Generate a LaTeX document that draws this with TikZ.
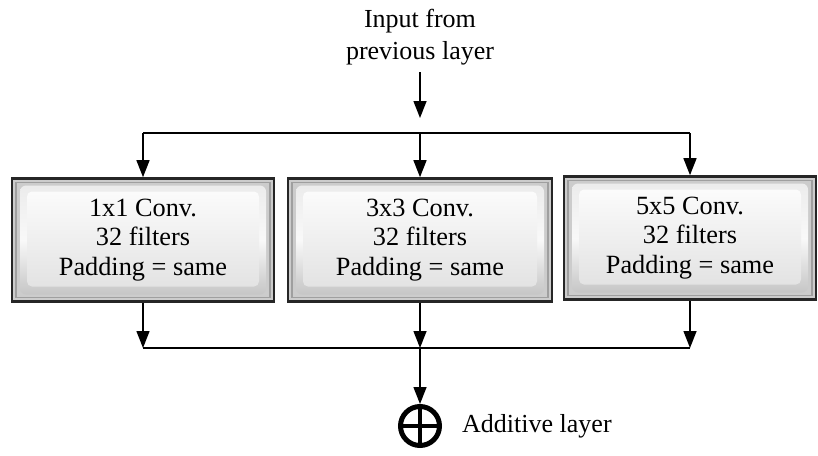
\documentclass[tikz,border=0pt]{standalone}
\usepackage{fontspec}
\setmainfont{Liberation Serif}
\usetikzlibrary{arrows.meta}
\begin{document}
\begin{tikzpicture}[x=1pt,y=-1pt,
  convbox/.style={minimum height=123pt, inner sep=0pt, align=center,
    font=\fontsize{26.3}{29.5}\selectfont,
    path picture={
      \fill[gray!40] (path picture bounding box.south west) rectangle (path picture bounding box.north east);
      \draw[gray!75,line width=1.2pt] ([shift={(4pt,4pt)}]path picture bounding box.south west) rectangle ([shift={(-4pt,-4pt)}]path picture bounding box.north east);
      \shade[top color=gray!15, bottom color=gray!45, middle color=gray!5, rounded corners=6pt]
        ([shift={(8pt,7pt)}]path picture bounding box.south west) rectangle ([shift={(-8pt,-7pt)}]path picture bounding box.north east);
      \shade[top color=gray!3, bottom color=gray!22, rounded corners=5pt]
        ([shift={(15pt,15pt)}]path picture bounding box.south west) rectangle ([shift={(-15pt,-13pt)}]path picture bounding box.north east);
    },
    draw=black!85, line width=2.6pt},
  conn/.style={line width=1.4pt},
  arr/.style={conn, -{Triangle[width=13pt,length=17pt]}},
  lbl/.style={font=\fontsize{26}{32}\selectfont, align=center, inner sep=0pt}
]
\useasboundingbox (0,0) rectangle (818,455);

\node[lbl] (inp) at (420,37) {Input from\\previous layer};

\node[convbox, minimum width=262pt] (c1) at (143,240) {1x1 Conv.\\32 filters\\Padding = same};
\node[convbox, minimum width=264pt] (c2) at (420,240) {3x3 Conv.\\32 filters\\Padding = same};
\node[convbox, minimum width=252pt] (c3) at (690,238) {5x5 Conv.\\32 filters\\Padding = same};

\coordinate (split) at (420,133);
\coordinate (sl) at (c1.north |- split);
\coordinate (sr) at (c3.north |- split);
\coordinate (merge) at (420,348);
\coordinate (ml) at (c1.south |- merge);
\coordinate (mr) at (c3.south |- merge);

\draw[arr] (inp.south |- 0,72) -- (420,118);
\draw[conn] (sl) -- (sr);
\draw[arr] (sl) -- (c1.north);
\draw[arr] (split) -- (c2.north);
\draw[arr] (sr) -- (c3.north);

\draw[conn] (ml) -- (mr);
\draw[arr] (c1.south) -- (ml);
\draw[arr] (c2.south) -- (merge);
\draw[arr] (c3.south) -- (mr);

\node[circle, draw, line width=5pt, minimum size=39pt, inner sep=0pt,
  path picture={\draw[line width=4.5pt] (path picture bounding box.north) -- (path picture bounding box.south);
                \draw[line width=4.5pt] (path picture bounding box.west) -- (path picture bounding box.east);}] (add) at (420,426) {};
\draw[arr] (merge) -- (add.north);

\node[lbl, anchor=west] (addl) at (462,426) {Additive layer};
\end{tikzpicture}
\end{document}
